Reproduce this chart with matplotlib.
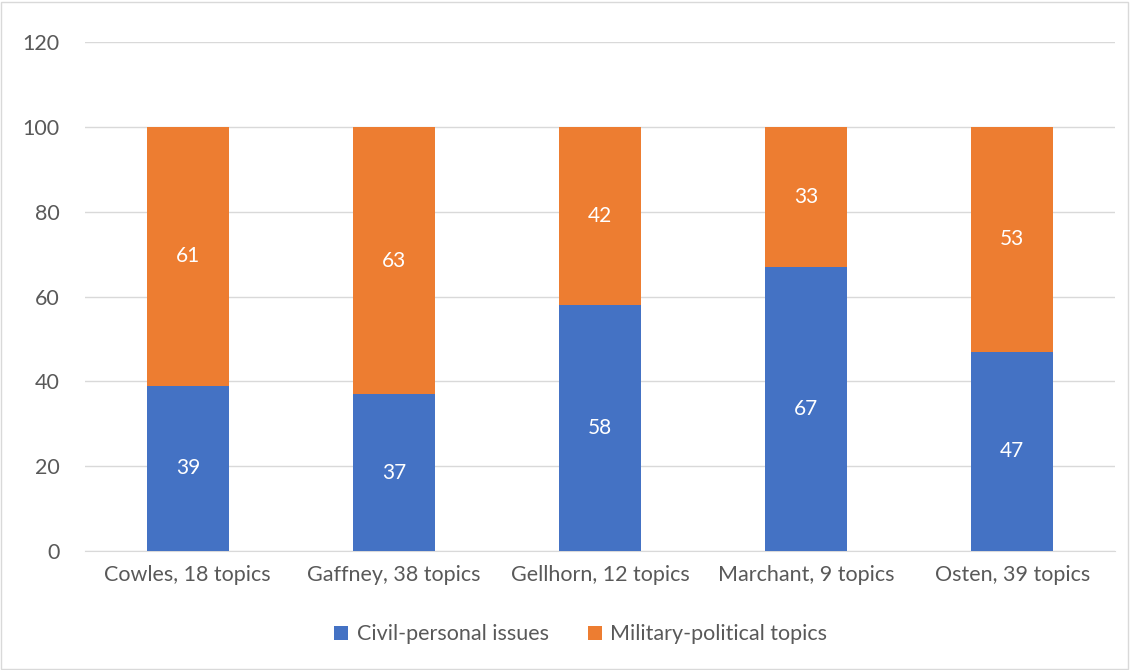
import matplotlib.pyplot as plt
import numpy as np
from matplotlib.patches import Rectangle

plt.rcParams['font.family'] = ['Lato', 'DejaVu Sans']

authors = ['Cowles, 18 topics', 'Gaffney, 38 topics', 'Gellhorn, 12 topics',
           'Marchant, 9 topics', 'Osten, 39 topics']
civil = [39, 37, 58, 67, 47]
military = [61, 63, 42, 33, 53]

fig = plt.figure(figsize=(11.3, 6.7), dpi=100)
ax = fig.add_axes([0.075, 0.1776, 0.912, 0.7594])
x = np.arange(len(authors))
w = 0.4
b1 = ax.bar(x, civil, w, color='#4472C4', label='Civil-personal issues', zorder=3)
b2 = ax.bar(x, military, w, bottom=civil, color='#ED7D31', label='Military-political topics', zorder=3)

for rect, v in zip(b1, civil):
    ax.text(rect.get_x() + rect.get_width() / 2, v / 2, str(v), ha='center', va='center',
            color='white', fontsize=15, zorder=4)
for rect, c, v in zip(b2, civil, military):
    ax.text(rect.get_x() + rect.get_width() / 2, c + v / 2, str(v), ha='center', va='center',
            color='white', fontsize=15, zorder=4)

ax.set_ylim(0, 120)
ax.set_yticks(range(0, 121, 20))
ax.set_xlim(-0.5, 4.5)
ax.set_xticks(x)
ax.set_xticklabels(authors)
ax.yaxis.grid(True, color='#D9D9D9', linewidth=1, zorder=0)
for s in ['top', 'right', 'left']:
    ax.spines[s].set_visible(False)
ax.spines['bottom'].set_color('#D9D9D9')
ax.tick_params(axis='both', length=0, labelsize=15.5, colors='#595959', pad=10)
ax.tick_params(axis='y', pad=18)

fig.legend(handles=[b1, b2], loc='center', bbox_to_anchor=(0.514, 0.053), ncol=2,
           frameon=False, fontsize=15.5, labelcolor='#595959', handlelength=0.65,
           handleheight=0.65, columnspacing=1.8, handletextpad=0.4)

fig.patches.append(Rectangle((0.001, 0.002), 0.997, 0.995, transform=fig.transFigure,
                             fill=False, edgecolor='#D9D9D9', linewidth=1))
fig.savefig('out.png', dpi=100)
